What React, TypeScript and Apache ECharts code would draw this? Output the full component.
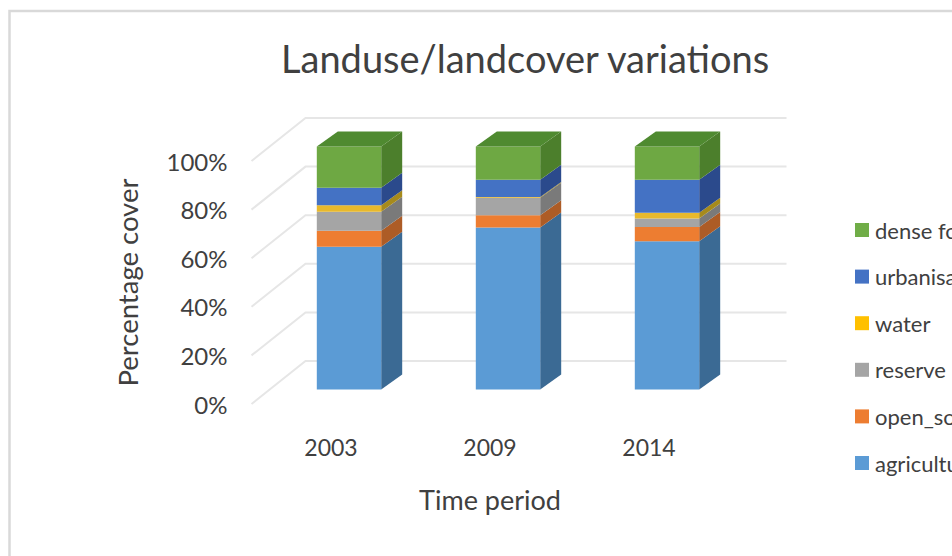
import React, { useEffect, useRef } from "react";
import * as echarts from "echarts";

const categories = ["2003", "2009", "2014"];
const agriculture = [58.7, 66.7, 61.0];
const openSoil = [6.6, 5.0, 5.9];
const reserve = [7.8, 7.2, 3.5];
const water = [2.7, 0.3, 2.3];
const urbanisation = [7.2, 7.1, 13.6];
const denseForest = [17.0, 13.7, 13.7];
const yTicks = [0, 20, 40, 60, 80, 100];

const layers = [
  { name: "agriculture", values: agriculture, key: "#5b9bd5", front: "#5b9bd5", side: "#3b6a94" },
  { name: "open_soil", values: openSoil, key: "#ed7d31", front: "#ed7d31", side: "#ad5c26" },
  { name: "reserve", values: reserve, key: "#a5a5a5", front: "#a5a5a5", side: "#7a7a7a" },
  { name: "water", values: water, key: "#ffc000", front: "#e8b92c", side: "#a68a1c" },
  { name: "urbanisation", values: urbanisation, key: "#4472c4", front: "#4472c4", side: "#2b4a8c" },
  { name: "dense forest", values: denseForest, key: "#70ad47", front: "#6ea843", side: "#4c7f2c" },
];

const FONT = "Lato";
const TEXT = "#404040";
const PLANE_DX = 18;
const PLANE_DY = -14.5;
const DEPTH_DX = 21;
const DEPTH_DY = -15;
const WALL_DX = 54;
const WALL_DY = -43;
const WALL_EXTRA = 4;

export default function App() {
  const ref = useRef<HTMLDivElement>(null);
  useEffect(() => {
    document.body.style.margin = "0";
    const chart = echarts.init(ref.current!, null, { renderer: "svg" });

    const gridSeries = {
      type: "custom",
      silent: true,
      z: 1,
      data: yTicks.map((v) => [0, v]),
      encode: { x: 0, y: 1 },
      renderItem: (params: any, api: any) => {
        const y = api.coord([0, api.value(1)])[1];
        const left = params.coordSys.x;
        const right = left + params.coordSys.width;
        return {
          type: "polyline",
          shape: {
            points: [
              [left, y],
              [left + WALL_DX, y + WALL_DY],
              [right + WALL_DX + WALL_EXTRA, y + WALL_DY],
            ],
          },
          style: { stroke: "#e6e6e6", lineWidth: 2, fill: "none" },
        };
      },
    };

    const cumulative = categories.map(() => 0);
    const barSeries = layers.map((layer, li) => {
      const data = layer.values.map((v, i) => {
        const start = cumulative[i];
        cumulative[i] += v;
        return [i, start, cumulative[i]];
      });
      const isLast = li === layers.length - 1;
      return {
        type: "custom",
        name: layer.name,
        z: 2,
        itemStyle: { color: layer.key },
        data,
        encode: { x: 0, y: [1, 2] },
        renderItem: (_params: any, api: any) => {
          const i = api.value(0);
          const p0 = api.coord([i, api.value(1)]);
          const p1 = api.coord([i, api.value(2)]);
          const w = api.size([1, 0])[0] * 0.405;
          const x0 = p0[0] + PLANE_DX - w / 2;
          const x1 = x0 + w;
          const yb = p0[1] + PLANE_DY;
          const yt = p1[1] + PLANE_DY;
          const children: any[] = [
            {
              type: "polygon",
              shape: {
                points: [
                  [x1, yb],
                  [x1 + DEPTH_DX, yb + DEPTH_DY],
                  [x1 + DEPTH_DX, yt + DEPTH_DY],
                  [x1, yt],
                ],
              },
              style: { fill: layer.side },
            },
            {
              type: "rect",
              shape: { x: x0, y: yt, width: w, height: yb - yt },
              style: { fill: layer.front },
            },
          ];
          if (isLast) {
            children.push({
              type: "polygon",
              shape: {
                points: [
                  [x0, yt],
                  [x1, yt],
                  [x1 + DEPTH_DX, yt + DEPTH_DY],
                  [x0 + DEPTH_DX, yt + DEPTH_DY],
                ],
              },
              style: { fill: "#4f8a30" },
            });
          }
          return { type: "group", children };
        },
      };
    });

    chart.setOption({
      animation: false,
      backgroundColor: "#ffffff",
      textStyle: { fontFamily: FONT },
      title: {
        text: "Landuse/landcover variations",
        left: 281,
        top: 39,
        padding: 0,
        textStyle: { fontFamily: FONT, fontSize: 38, fontWeight: "normal", color: TEXT },
      },
      legend: {
        orient: "vertical",
        left: 855,
        top: 219,
        padding: 0,
        itemWidth: 14,
        itemHeight: 14,
        itemGap: 24.6,
        icon: "rect",
        data: layers.map((l) => l.name).reverse(),
        textStyle: { fontFamily: FONT, fontSize: 22, color: TEXT, padding: [0, 0, 0, 1] },
      },
      graphic: [
        {
          type: "polyline",
          silent: true,
          shape: { points: [[9.5, 556], [9.5, 11], [952, 11]] },
          style: { stroke: "#d9d9d9", lineWidth: 2.5, fill: "none" },
        },
      ],
      grid: { left: 251.5, top: 161, width: 477, height: 243 },
      xAxis: {
        type: "category",
        data: categories,
        name: "Time period",
        nameLocation: "middle",
        nameGap: 82,
        nameTextStyle: { fontFamily: FONT, fontSize: 27, color: TEXT },
        axisLine: { show: false },
        axisTick: { show: false },
        axisLabel: { margin: 31, fontFamily: FONT, fontSize: 23, color: TEXT },
      },
      yAxis: {
        type: "value",
        min: 0,
        max: 100,
        interval: 20,
        name: "Percentage cover",
        nameLocation: "middle",
        nameGap: 110,
        nameTextStyle: { fontFamily: FONT, fontSize: 27.5, color: TEXT },
        axisLine: { show: false },
        axisTick: { show: false },
        splitLine: { show: false },
        axisLabel: { margin: 24, formatter: "{value}%", fontFamily: FONT, fontSize: 24, color: TEXT },
      },
      series: [gridSeries, ...barSeries],
    });
    return () => chart.dispose();
  }, []);
  return <div ref={ref} style={{ width: 952, height: 556, overflow: "hidden" }} />;
}
